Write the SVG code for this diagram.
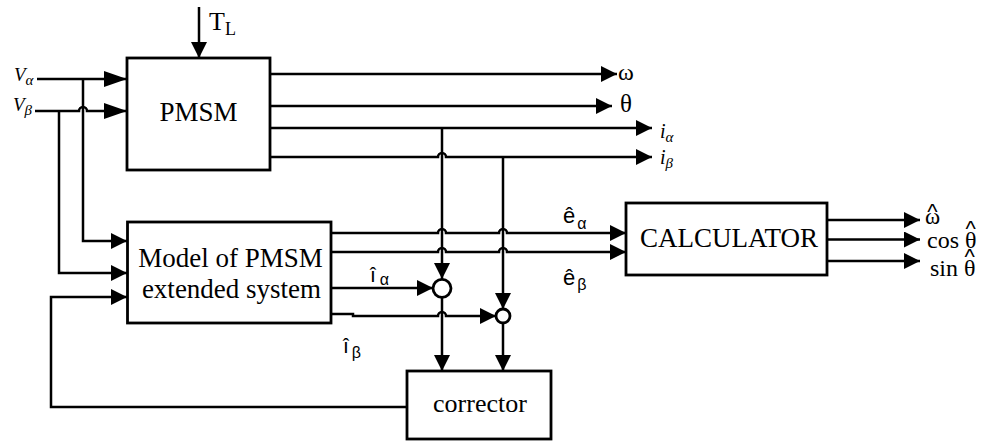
<svg xmlns="http://www.w3.org/2000/svg" width="987" height="441" viewBox="0 0 987 441">
<style>
.ln{fill:none;stroke:#000;stroke-width:2.5}
.bx{fill:#fff;stroke:#000;stroke-width:2.8}
.tm{font-family:"Liberation Serif","Times New Roman",serif;fill:#000}
.it{font-family:"Liberation Serif","Times New Roman",serif;font-style:italic;fill:#000}
.sn{font-family:"Liberation Sans",Arial,sans-serif;fill:#000}
.hat{font-family:"Liberation Sans",Arial,sans-serif;font-size:22px}
</style>
<defs>
<marker id="ar" markerUnits="userSpaceOnUse" markerWidth="17" markerHeight="17" refX="16" refY="8" orient="auto">
<path d="M0,0 L16,8 L0,16 z" fill="#000"/>
</marker>
<marker id="arl" markerUnits="userSpaceOnUse" markerWidth="24" markerHeight="17" refX="23" refY="8" orient="auto">
<path d="M0,0 L23,8 L0,16 z" fill="#000"/>
</marker>
</defs>

<g id="connectors">
<path class="ln" d="M199,7 L199,58" marker-end="url(#ar)"/>
<path class="ln" d="M37,79 L127,79" marker-end="url(#arl)"/>
<path class="ln" d="M35,111 L79,111 A4,4 0 0 1 87,111 L127,111" marker-end="url(#arl)"/>
<path class="ln" d="M83,79 L83,241 L127,241" marker-end="url(#ar)"/>
<path class="ln" d="M59,111 L59,273 L127,273" marker-end="url(#ar)"/>
<path class="ln" d="M407,407 L51,407 L51,297 L127,297" marker-end="url(#ar)"/>
<path class="ln" d="M270,74 L617,74" marker-end="url(#ar)"/>
<path class="ln" d="M270,106 L612,106" marker-end="url(#ar)"/>
<path class="ln" d="M270,128 L652,128" marker-end="url(#ar)"/>
<path class="ln" d="M270,157 L438,157 A4,4 0 0 1 446,157 L652,157" marker-end="url(#ar)"/>
<path class="ln" d="M442,128 L442,279" marker-end="url(#ar)"/>
<path class="ln" d="M503,157 L503,309" marker-end="url(#ar)"/>
<path class="ln" d="M331,233 L438,233 A4,4 0 0 1 446,233 L499,233 A4,4 0 0 1 507,233 L626,233" marker-end="url(#ar)"/>
<path class="ln" d="M331,252 L438,252 A4,4 0 0 1 446,252 L499,252 A4,4 0 0 1 507,252 L626,252" marker-end="url(#ar)"/>
<path class="ln" d="M331,288 L433,288" marker-end="url(#ar)"/>
<path class="ln" d="M331,314 L353,314 L353,316 L438,316 A4,4 0 0 1 446,316 L496,316" marker-end="url(#ar)"/>
<path class="ln" d="M442,297 L442,371" marker-end="url(#ar)"/>
<path class="ln" d="M503,323 L503,371" marker-end="url(#ar)"/>
<path class="ln" d="M827,220 L920,220" marker-end="url(#ar)"/>
<path class="ln" d="M827,239.5 L920,239.5" marker-end="url(#ar)"/>
<path class="ln" d="M827,261 L920,261" marker-end="url(#ar)"/>
</g>

<g id="pmsm">
<rect class="bx" x="127" y="58" width="143" height="112"/>
<text class="tm" x="198.5" y="121" font-size="27" text-anchor="middle">PMSM</text>
</g>
<g id="model">
<rect class="bx" x="127.5" y="222" width="203.5" height="101"/>
<text class="tm" x="230.5" y="267" font-size="27" text-anchor="middle">Model of PMSM</text>
<text class="tm" x="231.5" y="298" font-size="27" text-anchor="middle">extended system</text>
</g>
<g id="calculator">
<rect class="bx" x="626" y="203" width="201" height="72"/>
<text class="tm" x="729" y="247" font-size="27" text-anchor="middle">CALCULATOR</text>
</g>
<g id="corrector">
<rect class="bx" x="407" y="371" width="144" height="68"/>
<text class="tm" x="480" y="412" font-size="26" text-anchor="middle">corrector</text>
</g>
<g id="sum1">
<circle class="bx" cx="442" cy="288.3" r="9" stroke-width="2.5"/>
</g>
<g id="sum2">
<circle class="bx" cx="503" cy="316" r="7" stroke-width="2.5"/>
</g>

<g id="labels">
<text class="tm" x="209" y="30" font-size="26">T<tspan font-size="18" dy="5">L</tspan></text>
<text class="it" x="14" y="81" font-size="19">V<tspan font-size="15" dy="4">α</tspan></text>
<text class="it" x="13" y="111" font-size="19">V<tspan font-size="15" dy="4">β</tspan></text>
<text class="tm" x="618" y="80" font-size="24">ω</text>
<text class="tm" x="620" y="112" font-size="25">θ</text>
<text class="it" x="660" y="138" font-size="20">i<tspan font-size="15" dy="4">α</tspan></text>
<text class="it" x="660" y="164" font-size="20">i<tspan font-size="15" dy="4">β</tspan></text>
<text class="sn" x="563" y="223" font-size="22">ê<tspan font-size="16" dy="6" dx="2">α</tspan></text>
<text class="sn" x="563" y="285" font-size="22">ê<tspan font-size="16" dy="5" dx="2">β</tspan></text>
<text class="sn" x="370" y="282" font-size="21">î<tspan font-size="16" dy="3" dx="4">α</tspan></text>
<text class="sn" x="343" y="353" font-size="21">î<tspan font-size="16" dy="5" dx="3">β</tspan></text>
<text class="tm" x="925" y="224" font-size="23">ω<tspan class="hat" dx="-13" dy="-5">^</tspan></text>
<text class="tm" x="927" y="248" font-size="24">cos θ<tspan class="hat" dx="-11" dy="-12">^</tspan></text>
<text class="tm" x="930" y="276" font-size="24">sin θ<tspan class="hat" dx="-11" dy="-12">^</tspan></text>
</g>
</svg>
